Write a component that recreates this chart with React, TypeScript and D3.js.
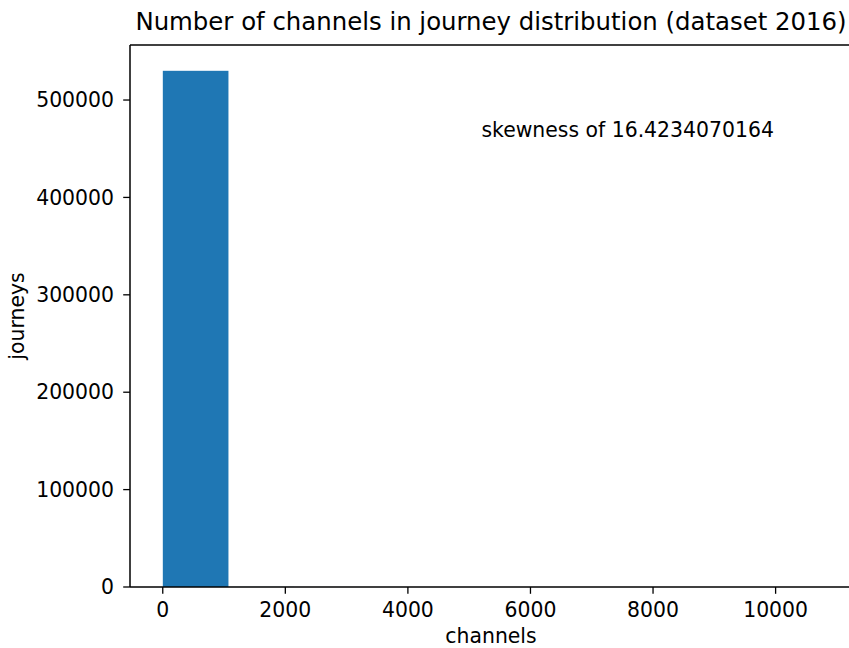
import React from "react";
import * as d3 from "d3";

// Histogram of journey lengths (number of channels per journey), 10 equal bins
const channelsMin = 1;
const channelsMax = 10711;
const binCounts = [530000, 110, 25, 8, 4, 2, 1, 0, 0, 1];
const xTicks = [0, 2000, 4000, 6000, 8000, 10000];
const yTicks = [0, 100000, 200000, 300000, 400000, 500000];
const titleText = "Number of channels in journey distribution (dataset 2016)";
const xLabel = "channels";
const yLabel = "journeys";
const skewness = "16.4234070164";
const noteX = 5200;
const noteY = 462000;

const W = 849;
const H = 648;
const plot = { left: 130, right: 852, top: 45, bottom: 587 };
const FONT = "DejaVu Sans, sans-serif";
const BAR = "#1f77b4";
const LABEL_SIZE = 20.4;
const TITLE_SIZE = 24.4;

export default function App() {
  const binWidth = (channelsMax - channelsMin) / binCounts.length;
  const bins = binCounts.map((c, i) => ({
    x0: channelsMin + i * binWidth,
    x1: channelsMin + (i + 1) * binWidth,
    count: c,
  }));
  const span = channelsMax - channelsMin;
  const x = d3
    .scaleLinear()
    .domain([channelsMin - 0.05 * span, channelsMax + 0.05 * span])
    .range([plot.left, plot.right]);
  const yMax = d3.max(binCounts) as number;
  const y = d3
    .scaleLinear()
    .domain([0, yMax * 1.05])
    .range([plot.bottom, plot.top]);

  const tickLen = 6.8;
  const sw = 1.5;

  return (
    <svg
      width={W}
      height={H}
      style={{ position: "fixed", left: 0, top: 0, background: "#fff" }}
      fontFamily={FONT}
    >
      <rect x={0} y={0} width={W} height={H} fill="#fff" />
      {bins.map((b, i) => (
        <rect
          key={i}
          x={x(b.x0)}
          y={y(b.count)}
          width={x(b.x1) - x(b.x0)}
          height={y(0) - y(b.count)}
          fill={BAR}
        />
      ))}

      {/* spines (the right one falls outside the canvas) */}
      <line x1={plot.left} x2={plot.left} y1={plot.top} y2={plot.bottom} stroke="#000" strokeWidth={sw} />
      <line x1={plot.left} x2={plot.right} y1={plot.top} y2={plot.top} stroke="#000" strokeWidth={sw} />
      <line x1={plot.left} x2={plot.right} y1={plot.bottom} y2={plot.bottom} stroke="#000" strokeWidth={sw} />

      {/* x axis */}
      {xTicks.map((t) => (
        <g key={t}>
          <line x1={x(t)} x2={x(t)} y1={plot.bottom} y2={plot.bottom + tickLen} stroke="#000" strokeWidth={1.3} />
          <text x={x(t)} y={617} textAnchor="middle" fontSize={LABEL_SIZE} fill="#000">
            {t}
          </text>
        </g>
      ))}
      {/* y axis */}
      {yTicks.map((t) => (
        <g key={t}>
          <line x1={plot.left - tickLen} x2={plot.left} y1={y(t)} y2={y(t)} stroke="#000" strokeWidth={1.3} />
          <text x={114} y={y(t)} dy="0.35em" textAnchor="end" fontSize={LABEL_SIZE} fill="#000">
            {t}
          </text>
        </g>
      ))}

      <text x={(plot.left + plot.right) / 2} y={643} textAnchor="middle" fontSize={LABEL_SIZE} fill="#000">
        {xLabel}
      </text>
      <text
        transform={`translate(24, ${(plot.top + plot.bottom) / 2}) rotate(-90)`}
        textAnchor="middle"
        fontSize={LABEL_SIZE}
        fill="#000"
      >
        {yLabel}
      </text>
      <text x={(plot.left + plot.right) / 2} y={30} textAnchor="middle" fontSize={TITLE_SIZE} fill="#000">
        {titleText}
      </text>
      <text x={x(noteX)} y={y(noteY)} fontSize={LABEL_SIZE} fill="#000">
        {`skewness of ${skewness}`}
      </text>
    </svg>
  );
}
